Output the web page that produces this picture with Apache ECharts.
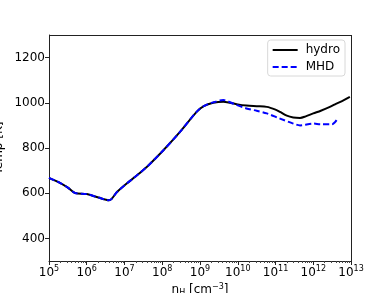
<!DOCTYPE html>
<html>
<head>
<meta charset="utf-8">
<script src="https://cdn.jsdelivr.net/npm/echarts@6/dist/echarts.min.js"></script>
<style>
  html, body { margin: 0; padding: 0; background: #fff; }
  #main { width: 390px; height: 293px; }
</style>
</head>
<body>
<div id="main"></div>
<script>
// log10(n_H) positions and temperatures
var hydroLogN = [5.0, 5.3, 5.5, 5.69, 6.0, 6.31, 6.59, 6.66, 6.8, 7.06, 7.3, 7.59, 8.03, 8.47, 8.91, 9.1, 9.35, 9.62, 10.0, 10.23, 10.5, 10.77, 11.0, 11.12, 11.3, 11.47, 11.65, 11.8, 12.0, 12.2, 12.44, 12.6, 12.8, 12.97];
var hydroT    = [668, 645, 625, 601, 596, 581, 569, 575, 605, 643, 675, 716, 790, 871, 960, 985, 1000, 1005, 993, 988, 985, 982, 970, 960, 943, 935, 933, 940, 953, 965, 982, 995, 1011, 1026];

var mhdLogN = [5.0, 5.3, 5.5, 5.69, 6.0, 6.31, 6.59, 6.66, 6.8, 7.06, 7.3, 7.59, 8.03, 8.47, 8.91, 9.1, 9.35, 9.62, 9.9, 10.23, 10.5, 10.77, 11.12, 11.47, 11.65, 12.0, 12.2, 12.5, 12.58, 12.63];
var mhdT    = [668, 645, 625, 601, 596, 581, 569, 575, 605, 643, 675, 716, 790, 871, 960, 985, 1002, 1012, 995, 975, 965, 953, 930, 908, 900, 908, 905, 905, 915, 926];

var yTicks = [400, 600, 800, 1000, 1200];

function pairs(xs, ys) {
  return xs.map(function (x, i) { return [Math.pow(10, x), ys[i]]; });
}

var chart = echarts.init(document.getElementById('main'), null, { renderer: 'canvas' });

var option = {
  animation: false,
  textStyle: { fontFamily: 'DejaVu Sans' },
  grid: { left: 49, right: 39, top: 35, bottom: 32, containLabel: false, outerBoundsMode: 'none' },
  legend: {
    orient: 'vertical',
    right: 45,
    top: 40,
    itemWidth: 25,
    itemHeight: 10,
    itemGap: 5,
    padding: [4, 5, 3, 4],
    borderColor: '#d8d8d8',
    borderWidth: 1,
    borderRadius: 3,
    itemStyle: { opacity: 0 },
    textStyle: { fontSize: 12, color: '#000', fontFamily: 'DejaVu Sans', padding: [0, 0, 0, 3] },
    data: ['hydro', 'MHD']
  },
  xAxis: {
    type: 'log',
    logBase: 10,
    min: 1e5,
    max: 1e13,
    name: 'n{sub|H} [cm{sup|−3}]',
    nameLocation: 'middle',
    nameGap: 22,
    nameMoveOverlap: false,
    nameTextStyle: {
      fontSize: 12, color: '#000',
      rich: {
        sub: { fontSize: 8, verticalAlign: 'top', padding: [6, 0, 0, 0] },
        sup: { fontSize: 8, verticalAlign: 'bottom', padding: [0, 0, 6, 0] }
      }
    },
    axisLine: { lineStyle: { color: '#222' } },
    axisTick: { inside: false, length: 4, lineStyle: { color: '#222' } },
    minorTick: { show: true, splitNumber: 9, length: 2, lineStyle: { color: '#444' } },
    splitLine: { show: false },
    axisLabel: {
      margin: 4,
      color: '#000',
      fontSize: 12,
      formatter: function (v) {
        var e = Math.round(Math.log10(v));
        return '{b|10}{s|' + e + '}';
      },
      rich: {
        b: { fontSize: 12, color: '#000' },
        s: { fontSize: 8, color: '#000', verticalAlign: 'bottom', padding: [0, 0, 7, 0] }
      }
    }
  },
  yAxis: {
    type: 'value',
    min: 300,
    max: 1300,
    interval: 100,
    name: 'Temp [K]',
    nameLocation: 'middle',
    nameGap: 44,
    nameMoveOverlap: false,
    nameTextStyle: { fontSize: 12, color: '#000' },
    axisLine: { show: true, lineStyle: { color: '#222' } },
    axisTick: { length: 4, customValues: yTicks, lineStyle: { color: '#222' } },
    splitLine: { show: false },
    axisLabel: {
      margin: 4,
      color: '#000',
      fontSize: 12,
      customValues: yTicks,
      formatter: function (v) { return String(v); }
    }
  },
  series: [
    {
      name: 'hydro',
      type: 'line',
      data: pairs(hydroLogN, hydroT),
      showSymbol: false,
      symbol: 'none',
      smooth: 0.3,
      color: '#000',
      lineStyle: { color: '#000', width: 2 }
    },
    {
      name: 'MHD',
      type: 'line',
      data: pairs(mhdLogN, mhdT),
      showSymbol: false,
      symbol: 'none',
      smooth: 0.3,
      color: '#0000ff',
      lineStyle: { color: '#0000ff', width: 2, type: [6, 3] }
    },
    {
      // frame on top and right like the reference box
      type: 'line',
      silent: true,
      data: [],
      markLine: {
        silent: true,
        symbol: 'none',
        label: { show: false },
        lineStyle: { color: '#222', width: 1, type: 'solid' },
        data: [
          [{ coord: [1e5, 1300] }, { coord: [1e13, 1300] }],
          [{ coord: [1e13, 300] }, { coord: [1e13, 1300] }]
        ]
      }
    }
  ]
};

chart.setOption(option);
</script>
</body>
</html>
